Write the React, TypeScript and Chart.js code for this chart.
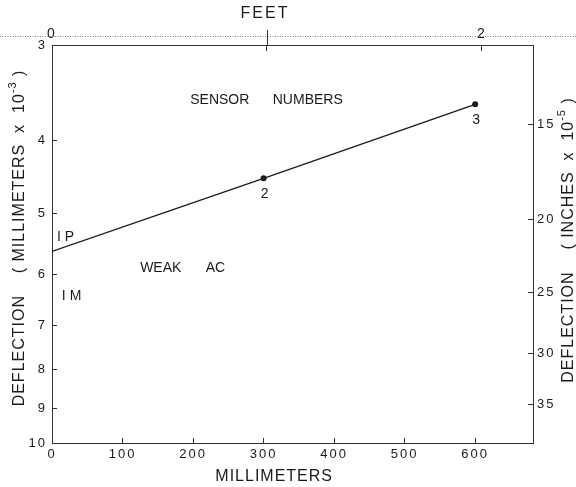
import React, { useEffect, useRef } from 'react';
import { Chart, registerables } from 'chart.js';

Chart.register(...registerables);

// ---- data ----
const xMillimeters = [0, 300, 600];
const deflectionMm = [5.6, 4.49, 3.59];
const pointRadii = [0, 3, 3];
const sensorNumbers = ['', '2', '3'];

const xTickValues = [0, 100, 200, 300, 400, 500, 600];
const yTickValues = [3, 4, 5, 6, 7, 8, 9, 10];
const inchTickValues = [15, 20, 25, 30, 35];
const feetTickValues = [0, 1, 2];
const feetTickLabels = ['0', '', '2'];

const X_MAX_MM = 682;
const Y_MIN = 3;
const Y_MAX = 10;
const MM_PER_FOOT = 304.8;
const INCH_E5_PER_MM_E3 = 3.937;

const noteTexts = ['SENSOR', 'NUMBERS', 'I P', 'I M', 'WEAK', 'AC'];
const noteX = [196, 313, 7, 14, 125, 218];
const noteY = [3.54, 3.54, 5.36, 6.41, 5.89, 5.89];

const FONT = '"Liberation Sans", Arial, sans-serif';
const INK = '#1a1a1a';

type Seg = { text: string; size: number; dy?: number };

function drawRich(ctx: CanvasRenderingContext2D, cx: number, cy: number, rot: number, segs: Seg[], spacing: number) {
  ctx.save();
  ctx.translate(cx, cy);
  ctx.rotate(rot);
  ctx.fillStyle = INK;
  ctx.textBaseline = 'middle';
  ctx.textAlign = 'left';
  (ctx as any).letterSpacing = spacing + 'px';
  let total = 0;
  const widths = segs.map((s) => {
    ctx.font = `${s.size}px ${FONT}`;
    const w = ctx.measureText(s.text).width;
    total += w;
    return w;
  });
  let x = -total / 2;
  segs.forEach((s, i) => {
    ctx.font = `${s.size}px ${FONT}`;
    ctx.fillText(s.text, x, s.dy || 0);
    x += widths[i];
  });
  ctx.restore();
}

const decorPlugin = {
  id: 'decor',
  beforeDraw(chart: any) {
    const ctx = chart.ctx;
    ctx.save();
    ctx.fillStyle = '#ffffff';
    ctx.fillRect(0, 0, chart.width, chart.height);
    ctx.restore();
    (ctx as any).letterSpacing = '2px';
  },
  afterDraw(chart: any) {
    const ctx: CanvasRenderingContext2D = chart.ctx;
    const xs = chart.scales.x;
    const ys = chart.scales.y;
    const x2 = chart.scales.x2;
    const area = chart.chartArea;
    (ctx as any).letterSpacing = '0px';

    // feet axis line (dotted) and upward tick extension
    ctx.save();
    ctx.strokeStyle = '#777';
    ctx.lineWidth = 1;
    ctx.setLineDash([1, 1.5]);
    const fy = area.top - 8.5;
    ctx.beginPath();
    ctx.moveTo(0, fy);
    ctx.lineTo(chart.width, fy);
    ctx.stroke();
    ctx.setLineDash([]);
    ctx.strokeStyle = '#333';
    feetTickValues.forEach((v, i) => {
      if (feetTickLabels[i] === '') {
        const px = Math.round(x2.getPixelForValue(v)) + 0.5;
        ctx.beginPath();
        ctx.moveTo(px, area.top - 15);
        ctx.lineTo(px, area.top);
        ctx.stroke();
      }
    });
    ctx.restore();

    // annotations
    ctx.save();
    ctx.fillStyle = INK;
    ctx.font = `14px ${FONT}`;
    ctx.textBaseline = 'middle';
    ctx.textAlign = 'left';
    noteTexts.forEach((t, i) => {
      ctx.fillText(t, xs.getPixelForValue(noteX[i]), ys.getPixelForValue(noteY[i]));
    });
    ctx.textAlign = 'center';
    sensorNumbers.forEach((t, i) => {
      if (!t) return;
      ctx.fillText(t, xs.getPixelForValue(xMillimeters[i]) + 1, ys.getPixelForValue(deflectionMm[i]) + 16);
    });
    ctx.restore();

    // axis titles
    const midY = (area.top + area.bottom) / 2;
    drawRich(ctx, 20, midY - 6, -Math.PI / 2, [
      { text: 'DEFLECTION', size: 16 },
      { text: '    ( MILLIMETERS  x  10', size: 16 },
      { text: '-3', size: 11, dy: -7 },
      { text: ' )', size: 16 },
    ], 1);
    drawRich(ctx, 569, midY - 4, -Math.PI / 2, [
      { text: 'DEFLECTION', size: 16 },
      { text: '    ( INCHES  x  10', size: 16 },
      { text: '-5', size: 11, dy: -7 },
      { text: ' )', size: 16 },
    ], 1);
    drawRich(ctx, xs.getPixelForValue(315), chart.height - 10, 0, [{ text: 'MILLIMETERS', size: 16 }], 1);
    drawRich(ctx, x2.getPixelForValue(1) - 2, 14, 0, [{ text: 'FEET', size: 16 }], 2);
  },
};

export default function App() {
  const ref = useRef<HTMLCanvasElement | null>(null);

  useEffect(() => {
    if (!ref.current) return;
    const tickFont = { family: FONT, size: 13 };
    const chart = new Chart(ref.current, {
      type: 'line',
      data: {
        datasets: [
          {
            data: xMillimeters.map((x, i) => ({ x, y: deflectionMm[i] })),
            borderColor: INK,
            backgroundColor: INK,
            borderWidth: 1.3,
            pointRadius: pointRadii,
            pointBorderWidth: 0,
            pointBackgroundColor: INK,
            tension: 0,
            xAxisID: 'x',
            yAxisID: 'y',
          },
        ],
      },
      options: {
        responsive: false,
        animation: false,
        devicePixelRatio: 1,
        layout: { padding: 0 },
        plugins: { legend: { display: false }, tooltip: { enabled: false }, title: { display: false } },
        scales: {
          x: {
            type: 'linear',
            position: 'bottom',
            min: 0,
            max: X_MAX_MM,
            afterBuildTicks: (s: any) => { s.ticks = xTickValues.map((value) => ({ value })); },
            afterFit: (s: any) => { s.height = 44; },
            grid: { drawOnChartArea: false, tickLength: -5, color: '#333' },
            border: { color: '#333', width: 1 },
            ticks: { font: tickFont, color: INK, padding: 9, maxRotation: 0, callback: (v: any) => String(v) },
          },
          x2: {
            type: 'linear',
            position: 'top',
            min: 0,
            max: X_MAX_MM / MM_PER_FOOT,
            afterBuildTicks: (s: any) => { s.ticks = feetTickValues.map((value) => ({ value })); },
            afterFit: (s: any) => { s.height = 45; },
            grid: { drawOnChartArea: false, tickLength: -6, color: '#333' },
            border: { color: '#333', width: 1 },
            ticks: {
              font: { family: FONT, size: 14 },
              color: INK,
              padding: 8,
              maxRotation: 0,
              callback: (v: any) => feetTickLabels[feetTickValues.indexOf(v)] ?? '',
            },
          },
          y: {
            type: 'logarithmic',
            position: 'left',
            reverse: true,
            min: Y_MIN,
            max: Y_MAX,
            afterBuildTicks: (s: any) => { s.ticks = yTickValues.map((value) => ({ value })); },
            afterFit: (s: any) => { s.width = 52; },
            grid: { drawOnChartArea: false, tickLength: -5, color: '#333' },
            border: { color: '#333', width: 1 },
            ticks: { font: tickFont, color: INK, padding: 10, callback: (v: any) => String(v) },
          },
          y2: {
            type: 'logarithmic',
            position: 'right',
            reverse: true,
            min: Y_MIN * INCH_E5_PER_MM_E3,
            max: Y_MAX * INCH_E5_PER_MM_E3,
            afterBuildTicks: (s: any) => { s.ticks = inchTickValues.map((value) => ({ value })); },
            afterFit: (s: any) => { s.width = 43; },
            grid: { drawOnChartArea: false, tickLength: -5, color: '#333' },
            border: { color: '#333', width: 1 },
            ticks: { font: tickFont, color: INK, padding: 9, callback: (v: any) => String(v) },
          },
        },
      },
      plugins: [decorPlugin],
    });
    return () => chart.destroy();
  }, []);

  return (
    <div style={{ position: 'fixed', left: 0, top: 0, width: 576, height: 487, background: '#fff' }}>
      <canvas ref={ref} width={576} height={487} style={{ display: 'block', width: 576, height: 487 }} />
    </div>
  );
}
